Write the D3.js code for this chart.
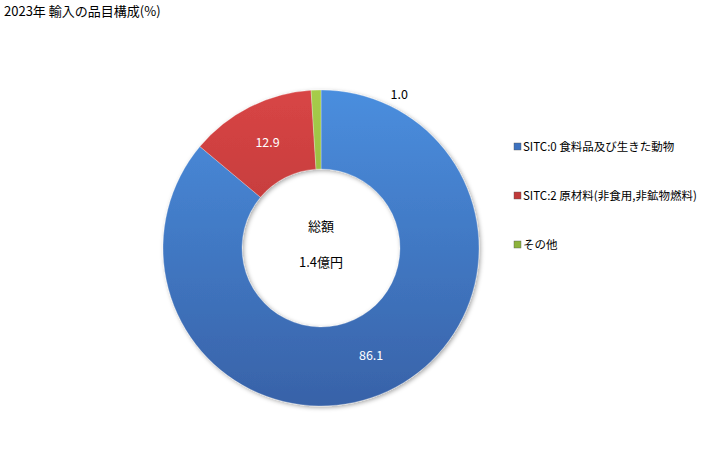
<!DOCTYPE html>
<html>
<head>
<meta charset="utf-8">
<script src="https://cdn.jsdelivr.net/npm/d3@7"></script>
<style>
  body { margin: 0; background: white; }
  text { font-family: "Noto Sans CJK JP", "DejaVu Sans", sans-serif; }
</style>
</head>
<body>
<script>
const categories = ["SITC:0 食料品及び生きた動物", "SITC:2 原材料(非食用,非鉱物燃料)", "その他"]
const values = [86.1, 12.9, 1.0]
const labels = ["86.1", "12.9", "1.0"]
const title = "2023年 輸入の品目構成(%)"
const totalLines = ["総額", "1.4億円"]

const [width, height] = [728, 450]
const [cx, cy] = [321, 248]
const [rOuter, rInner] = [158, 79]
const colors = {
    fills: [["#4a8ede", "#3862a8"], ["#d84545", "#a83030"], ["#a6cc4a", "#7d9e30"]],
    legend: ["#3d72c0", "#c03a3a", "#8db33c"],
    labelText: ["white", "white", "black"]
}

const svg = d3.select("body")
    .append("svg")
        .attr("width", width)
        .attr("height", height)

// gradients live in the chart group's coordinates (centre = 0,0)
const defs = svg.append("defs")
colors.fills.forEach((c, i) => {
    const g = defs.append("linearGradient")
        .attr("id", "grad" + i)
        .attr("gradientUnits", "userSpaceOnUse")
        .attr("x1", 0).attr("y1", -rOuter)
        .attr("x2", 0).attr("y2", rOuter)
    g.append("stop").attr("offset", "0%").attr("stop-color", c[0])
    g.append("stop").attr("offset", "100%").attr("stop-color", c[1])
})
const shadow = defs.append("filter").attr("id", "shadow")
    .attr("x", "-10%").attr("y", "-10%").attr("width", "120%").attr("height", "120%")
shadow.append("feDropShadow")
    .attr("dx", 1.5).attr("dy", 1.5).attr("stdDeviation", 2)
    .attr("flood-color", "#000").attr("flood-opacity", 0.35)

// title
svg.append("text")
    .attr("x", 4)
    .attr("y", 16)
    .attr("font-size", 13)
    .text(title)

const pie = d3.pie().sort(null).value(d => d)
const arcs = pie(values)
const arc = d3.arc().innerRadius(rInner).outerRadius(rOuter)

const chart = svg.append("g").attr("transform", `translate(${cx},${cy})`)

chart.append("g").attr("filter", "url(#shadow)")
    .selectAll("path")
    .data(arcs)
    .enter()
    .append("path")
        .attr("d", arc)
        .attr("fill", (d, i) => `url(#grad${i})`)
        .attr("stroke", "rgba(255,255,255,0.35)")
        .attr("stroke-width", 0.8)

// slice labels (the small one sits outside, to the upper right)
chart.selectAll("text.lbl")
    .data(arcs)
    .enter()
    .append("text")
        .attr("class", "lbl")
        .attr("text-anchor", "middle")
        .attr("font-size", 12.5)
        .attr("fill", (d, i) => colors.labelText[i])
        .attr("x", (d, i) => i < 2 ? arc.centroid(d)[0] : arc.centroid(d)[0] + 82)
        .attr("y", (d, i) => i < 2 ? arc.centroid(d)[1] + 5 : -rOuter + 9)
        .text((d, i) => labels[i])

// total in the hole
chart.selectAll("text.total")
    .data(totalLines)
    .enter()
    .append("text")
        .attr("class", "total")
        .attr("text-anchor", "middle")
        .attr("font-size", 13)
        .attr("x", 0)
        .attr("y", (d, i) => -17 + i * 36)
        .text(d => d)

// legend
const legend = svg.append("g").attr("transform", "translate(514,0)")
const legendY = d3.scalePoint().domain(categories).range([147, 245])
const item = legend.selectAll("g")
    .data(categories)
    .enter()
    .append("g")
        .attr("transform", d => `translate(0,${legendY(d)})`)
item.append("rect")
    .attr("x", 0).attr("y", -4)
    .attr("width", 7).attr("height", 7)
    .attr("fill", (d, i) => colors.legend[i])
    .attr("stroke", "#555").attr("stroke-width", 0.4)
item.append("text")
    .attr("x", 9)
    .attr("y", 4)
    .attr("font-size", 11.5)
    .text(d => d)
</script>
</body>
</html>
